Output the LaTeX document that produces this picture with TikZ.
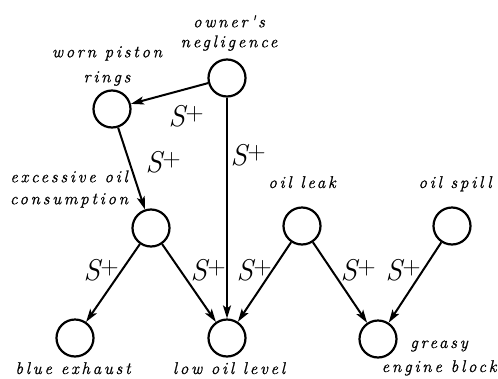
\documentclass[tikz,border=0pt]{standalone}
\usepackage{fontspec}
\usetikzlibrary{arrows.meta}
\newfontfamily\labfont[LetterSpace=16,FakeBold=0.8]{Latin Modern Roman}
\newfontfamily\spfont{Latin Modern Roman}
\newcommand{\splus}{{\spfont\itshape\fontsize{30}{34}\selectfont S}\kern0.5pt\raisebox{6pt}{\spfont\fontsize{25}{28}\selectfont +}}
\begin{document}
\begin{tikzpicture}[x=1pt,y=-1pt,
  state/.style={circle,draw,line width=2.2pt,minimum size=37pt,inner sep=0pt},
  lab/.style={font=\labfont\itshape\fontsize{17}{21}\selectfont,align=center,inner sep=0pt},
  sp/.style={inner sep=0pt},
  edge/.style={line width=2pt,-{Stealth[length=13pt,width=8pt,inset=3pt]}}]
\useasboundingbox (0,0) rectangle (498,378);
\node[state] (on) at (227,78) {};
\node[state] (wp) at (112,109) {};
\node[state] (eo) at (151,228) {};
\node[state] (ol) at (302,226) {};
\node[state] (os) at (452,226) {};
\node[state] (be) at (75,338) {};
\node[state] (lo) at (227,338) {};
\node[state] (ge) at (378,339) {};
\node[lab,font=\labfont\itshape\fontsize{17}{20}\selectfont] (lon) at (229,33) {owner's\\negligence};
\node[lab,font=\labfont\itshape\fontsize{17}{25}\selectfont] (lwp) at (107,66) {worn piston\\rings};
\node[lab,font=\labfont\itshape\fontsize{17}{22}\selectfont] (leo) at (69,189) {excessive oil\\consumption};
\node[lab,anchor=base] (lol) at (302,188) {oil leak};
\node[lab,anchor=base] (los) at (455,188) {oil spill};
\node[lab,anchor=base] (lbe) at (73,374) {blue exhaust};
\node[lab,anchor=base] (llo) at (229,374) {low oil level};
\node[lab,font=\labfont\itshape\fontsize{17}{24}\selectfont] (lge) at (439,358) {greasy\\engine block};
\draw[edge] (on) -- (wp);
\draw[edge] (on) -- (lo);
\draw[edge] (wp) -- (eo);
\draw[edge] (eo) -- (be);
\draw[edge] (eo) -- (lo);
\draw[edge] (ol) -- (lo);
\draw[edge] (ol) -- (ge);
\draw[edge] (os) -- (ge);
\node[sp] (s1) at (186,116) {\splus};
\node[sp] (s2) at (163,162) {\splus};
\node[sp] (s3) at (248,155) {\splus};
\node[sp] (s4) at (101,270) {\splus};
\node[sp] (s5) at (208,270) {\splus};
\node[sp] (s6) at (254,270) {\splus};
\node[sp] (s7) at (358,270) {\splus};
\node[sp] (s8) at (403,270) {\splus};
\end{tikzpicture}
\end{document}
